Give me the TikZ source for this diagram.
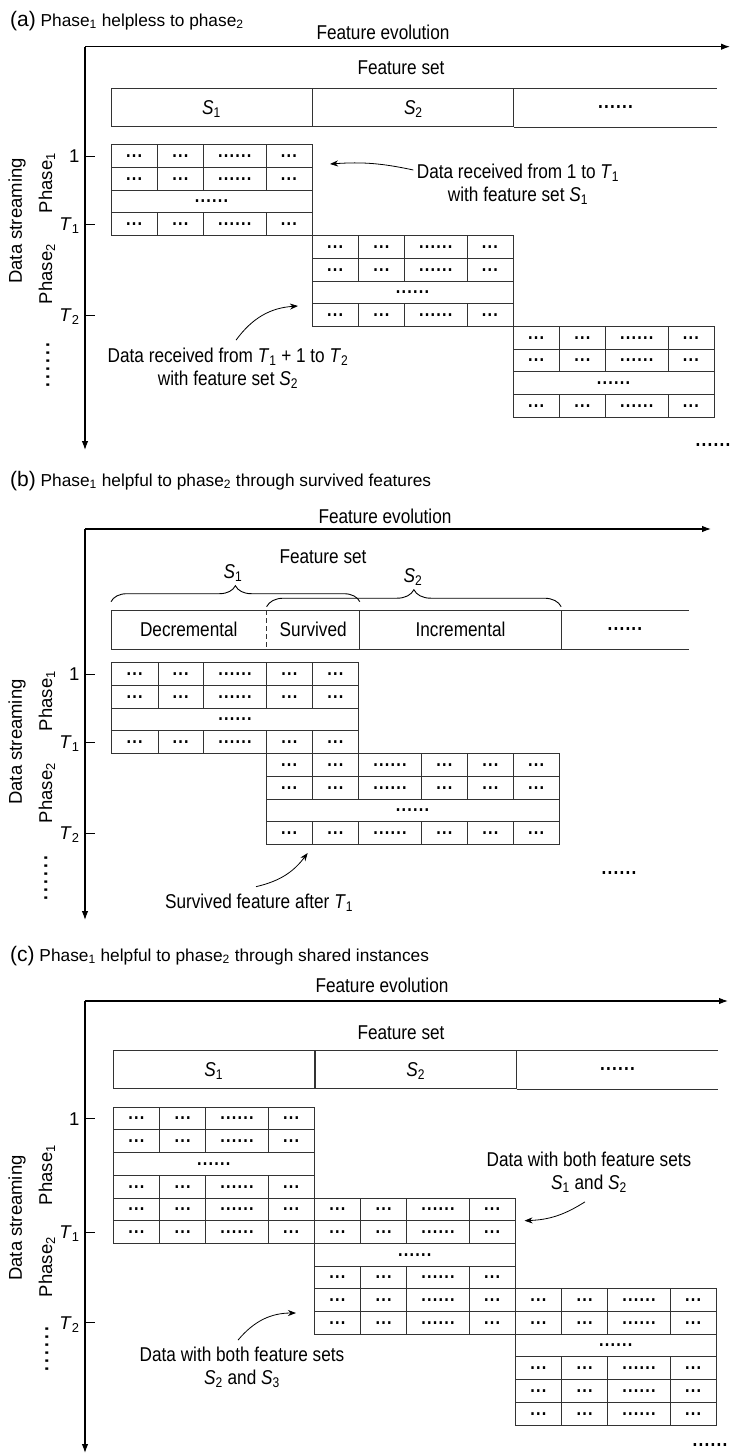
\documentclass[tikz,border=0pt]{standalone}
\usepackage{fontspec}
\setmainfont{Liberation Sans}[FakeStretch=0.86]
\newfontfamily\plainfont{Liberation Sans}
\usetikzlibrary{arrows.meta,calc,decorations.pathreplacing}

\newcommand\setsym[2]{\textit{#1}\textsubscript{#2}}
\newcommand\threedots{{\bfseries.\kern1.2pt.\kern1.2pt.}}
\newcommand\sixdots{{\bfseries.\kern1.2pt.\kern1.2pt.\kern1.2pt.\kern1.2pt.\kern1.2pt.}}
\newcommand\spaceddots{{\bfseries.\kern3.2pt.\kern3.2pt.\kern3.2pt.\kern3.2pt.\kern3.2pt.}}
\def\rowh{22.7}
\def\colsfour{0/46.5,46.5/92.5,92.5/155,155/201}
\def\colsfive{0/46.5,46.5/92,92/155,155/201,201/247}
\def\colssix{0/46,46/92.3,92.3/155.3,155.3/201.3,201.3/247.1,247.1/292.8}

% block of instances: name, left, top, column edges, width, row kinds
\newcommand\datablock[6]{%
  \foreach \kind [count=\r from 0] in {#6}{
    \if\kind m
      \node[cell, minimum width=#5pt] (#1-\r) at (#2, #3+\r*\rowh) {\sixdots};
    \else
      \foreach \xa/\xb [count=\c] in #4{
        \pgfmathsetmacro\cw{\xb-\xa}
        \node[cell, minimum width=\cw pt] (#1-\r-\c) at (#2+\xa, #3+\r*\rowh)
          {\ifdim\cw pt>55pt \sixdots\else\threedots\fi};
      }
    \fi
  }%
}

\begin{document}
\begin{tikzpicture}[
  x=1pt, y=-1pt,
  font=\fontsize{20}{24}\selectfont,
  cell/.style={draw=black!80, line width=0.9pt, anchor=north west,
    inner sep=0pt, minimum height=\rowh pt, font=\fontsize{19}{20}\selectfont},
  frame/.style={draw=black!80, line width=0.9pt},
  setcell/.style={frame, anchor=north west, inner sep=0pt,
    minimum height=38.3pt, text height=14.2pt, text depth=0pt},
  axis/.style={-{Latex[length=9pt,width=6.5pt]}, line width=1.1pt},
  tick/.style={line width=1pt},
  tlabel/.style={anchor=east, xshift=-5pt, inner sep=0pt,
    font=\plainfont\fontsize{18.5}{20}\selectfont, text height=13.2pt, text depth=0pt},
  vlabel/.style={rotate=90, font=\plainfont\fontsize{18.5}{20}\selectfont},
  title/.style={anchor=base west, inner sep=0pt, font=\plainfont\fontsize{17.3}{20}\selectfont},
  note/.style={align=center, font=\fontsize{20}{23}\selectfont},
  pointer/.style={-{Stealth[length=8pt,width=6pt,inset=2.5pt]}, line width=0.8pt},
  brace/.style={decorate, decoration={brace, amplitude=#1}, line width=0.9pt},
]
  \useasboundingbox (0,0) rectangle (731,1456);

  % (a) helpless
  \node[title] (a-title) at (10,26)
    {{\fontsize{21}{21}\selectfont(a)} Phase\textsubscript{1} helpless to phase\textsubscript{2}};
  \node (a-evol) at (383,32) {Feature evolution};
  \coordinate (a-origin) at (85,46.7);
  \coordinate (a-xend) at (730,46.7);
  \coordinate (a-yend) at (85,450);
  \draw[axis] (a-origin) -- (a-xend);
  \draw[axis] (a-origin) -- (a-yend);
  \node (a-fset) at (401,68) {Feature set};
  \node[setcell, minimum width=201pt] (a-s1) at (110.5,88) {\setsym{S}{1}};
  \node[setcell, minimum width=201pt] (a-s2) at (a-s1.north east) {\setsym{S}{2}};
  \node[setcell, draw=none, minimum width=201.5pt, text height=1.5pt] (a-more)
    at (a-s2.north east) {\sixdots};
  \draw[frame] (a-more.north west) -- (a-more.north east)
    (a-more.south west) -- (a-more.south east);

  \datablock{a1}{110.5}{144.3}{\colsfour}{201}{d,d,m,d}
  \datablock{a2}{311.5}{235.1}{\colsfour}{201}{d,d,m,d}
  \datablock{a3}{512.5}{325.9}{\colsfour}{201}{d,d,m,d}

  \draw[tick] (a-origin |- a1-0-1.west) node[tlabel] (a-one) {1} -- ++(10,0);
  \draw[tick] (a-origin |- a1-3-1.west) node[tlabel] (a-t1) {\setsym{T}{1}} -- ++(10,0);
  \draw[tick] (a-origin |- a2-3-1.west) node[tlabel] (a-t2) {\setsym{T}{2}} -- ++(10,0);
  \node[vlabel] (a-stream) at (17,221) {Data streaming};
  \node[vlabel] (a-ph1) at (47,183) {Phase\textsubscript{1}};
  \node[vlabel] (a-ph2) at (47,274) {Phase\textsubscript{2}};
  \node[rotate=90] (a-vdots) at (48,365) {\spaceddots};
  \node (a-hdots) at (713,445) {\sixdots};

  \node[note] (a-note1) at (518,184)
    {Data received from 1 to \setsym{T}{1}\\with feature set \setsym{S}{1}};
  \coordinate (a-aim1) at (330,164);
  \draw[pointer] ([yshift=14pt]a-note1.west) to[bend right=8] (a-aim1);
  \node[note] (a-note2) at (228,368)
    {Data received from \setsym{T}{1} + 1 to \setsym{T}{2}\\with feature set \setsym{S}{2}};
  \coordinate (a-aim2) at (298,306);
  \draw[pointer] ([shift={(8,-4)}]a-note2.north) to[bend left=25] (a-aim2);

  % (b) survived features
  \node[title] (b-title) at (10,486)
    {{\fontsize{21}{21}\selectfont(b)} Phase\textsubscript{1} helpful to phase\textsubscript{2} through survived features};
  \node (b-evol) at (385,516.7) {Feature evolution};
  \coordinate (b-origin) at (85,529);
  \coordinate (b-xend) at (711,529);
  \coordinate (b-yend) at (85,920);
  \draw[axis] (b-origin) -- (b-xend);
  \draw[axis] (b-origin) -- (b-yend);
  \node (b-fset) at (323,556.7) {Feature set};
  \node[setcell, draw=none, minimum width=154.7pt] (b-dec) at (111,610) {Decremental};
  \node[setcell, draw=none, minimum width=92.3pt] (b-surv) at (b-dec.north east) {Survived};
  \node[setcell, draw=none, minimum width=200.5pt] (b-inc) at (b-surv.north east) {Incremental};
  \node[setcell, draw=none, minimum width=126.5pt, text height=1.5pt] (b-more)
    at (b-inc.north east) {\sixdots};
  \draw[frame] (b-more.north east) -- (b-dec.north west) -- (b-dec.south west)
    -- (b-more.south east);
  \draw[frame] (b-surv.north east) -- (b-surv.south east)
    (b-inc.north east) -- (b-inc.south east);
  \draw[frame, dash pattern=on 5pt off 3pt] (b-dec.north east) -- (b-dec.south east);
  \draw[brace=16pt] ([yshift=8.3pt]b-dec.north west) -- ([yshift=8.3pt]b-surv.north east);
  \draw[brace=17pt] ([yshift=3.3pt]b-surv.north west) -- ([yshift=3.3pt]b-inc.north east);
  \node (b-s1) at (233,573) {\setsym{S}{1}};
  \node (b-s2) at (413,576.7) {\setsym{S}{2}};

  \datablock{b1}{111}{662.3}{\colsfive}{247}{d,d,m,d}
  \datablock{b2}{265.7}{753.1}{\colssix}{292.8}{d,d,m,d}

  \draw[tick] (b-origin |- b1-0-1.west) node[tlabel] (b-one) {1} -- ++(10,0);
  \draw[tick] (b-origin |- b1-3-1.west) node[tlabel] (b-t1) {\setsym{T}{1}} -- ++(10,0);
  \draw[tick] (b-origin |- b2-3-1.west) node[tlabel] (b-t2) {\setsym{T}{2}} -- ++(10,0);
  \node[vlabel] (b-stream) at (17,742) {Data streaming};
  \node[vlabel] (b-ph1) at (47,701) {Phase\textsubscript{1}};
  \node[vlabel] (b-ph2) at (47,793) {Phase\textsubscript{2}};
  \node[rotate=90] (b-vdots) at (46,878) {\spaceddots};
  \node (b-hdots) at (619,873) {\sixdots};

  \node[note] (b-note) at (259,903) {Survived feature after \setsym{T}{1}};
  \coordinate (b-aim) at (307.7,853);
  \draw[pointer] ([shift={(-3,-4)}]b-note.north) to[bend right=20] (b-aim);

  % (c) shared instances
  \node[title] (c-title) at (10,961)
    {{\fontsize{21}{21}\selectfont(c)} Phase\textsubscript{1} helpful to phase\textsubscript{2} through shared instances};
  \node (c-evol) at (382,985) {Feature evolution};
  \coordinate (c-origin) at (85,1001);
  \coordinate (c-xend) at (728,1001);
  \coordinate (c-yend) at (85,1453);
  \draw[axis] (c-origin) -- (c-xend);
  \draw[axis] (c-origin) -- (c-yend);
  \node (c-fset) at (401,1033) {Feature set};
  \node[setcell, minimum width=201pt] (c-s1) at (112.8,1050) {\setsym{S}{1}};
  \node[setcell, minimum width=201pt] (c-s2) at (c-s1.north east) {\setsym{S}{2}};
  \node[setcell, draw=none, minimum width=200.8pt, text height=1.5pt] (c-more)
    at (c-s2.north east) {\sixdots};
  \draw[frame] (c-more.north west) -- (c-more.north east)
    (c-more.south west) -- (c-more.south east);

  \datablock{c1}{112.8}{1106.7}{\colsfour}{201}{d,d,m,d,d,d}
  \datablock{c2}{313.8}{1197.5}{\colsfour}{201}{d,d,m,d,d,d}
  \datablock{c3}{514.8}{1288.3}{\colsfour}{201}{d,d,m,d,d,d}

  \draw[tick] (c-origin |- c1-0-1.west) node[tlabel] (c-one) {1} -- ++(10,0);
  \draw[tick] (c-origin |- c1-5-1.west) node[tlabel] (c-t1) {\setsym{T}{1}} -- ++(10,0);
  \draw[tick] (c-origin |- c2-5-1.west) node[tlabel] (c-t2) {\setsym{T}{2}} -- ++(10,0);
  \node[vlabel] (c-stream) at (17,1218) {Data streaming};
  \node[vlabel] (c-ph1) at (47,1175) {Phase\textsubscript{1}};
  \node[vlabel] (c-ph2) at (47,1267) {Phase\textsubscript{2}};
  \node[rotate=90] (c-vdots) at (47,1349) {\spaceddots};
  \node (c-hdots) at (710,1445) {\sixdots};

  \node[note] (c-note1) at (589,1172)
    {Data with both feature sets\\\setsym{S}{1} and \setsym{S}{2}};
  \coordinate (c-aim1) at (524.5,1220.7);
  \draw[pointer] ([shift={(-4,6)}]c-note1.south) to[bend left=15] (c-aim1);
  \node[note] (c-note2) at (242,1367)
    {Data with both feature sets\\\setsym{S}{2} and \setsym{S}{3}};
  \coordinate (c-aim2) at (296,1313);
  \draw[pointer] ([shift={(-4,-3)}]c-note2.north) to[bend left=25] (c-aim2);
\end{tikzpicture}
\end{document}
